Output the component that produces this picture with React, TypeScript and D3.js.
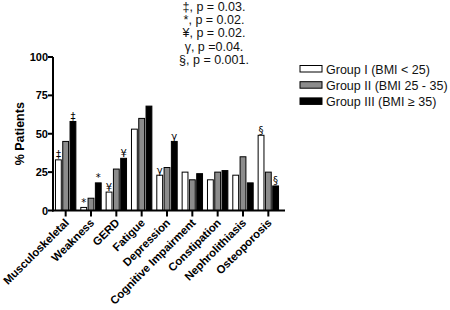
import React from "react";
import * as d3 from "d3";

const categories = [
  "Musculoskeletal",
  "Weakness",
  "GERD",
  "Fatigue",
  "Depression",
  "Cognitive Impairment",
  "Constipation",
  "Nephrolithiasis",
  "Osteoporosis",
];
const groups = ["Group I (BMI < 25)", "Group II (BMI 25 - 35)", "Group III (BMI \u2265 35)"];
const group1 = [33, 2, 12, 53, 23, 25, 20, 23, 49];
const group2 = [45, 8, 27, 60, 28, 20, 25, 35, 25];
const group3 = [58, 18, 34, 68, 45, 24, 26, 18, 16];
const seriesValues = [group1, group2, group3];
const yTicks = [0, 25, 50, 75, 100];
const markers = ["\u2021", "*", "\u00a5", "", "\u03b3", "", "", "", "\u00a7"];
const notes = ["\u2021, p = 0.03.", "*, p = 0.02.", "\u00a5, p = 0.02.", "\u03b3, p =0.04.", "\u00a7, p = 0.001."];

const fills = ["#ffffff", "#8c8c8c", "#000000"];
const FONT = "Liberation Sans, Arial, Helvetica, sans-serif";
const SYMFONT = "DejaVu Sans, Liberation Sans, sans-serif";

export default function App() {
  const W = 450, H = 310;
  const x0 = d3.scaleBand<string>().domain(categories).range([53, 281]).padding(0);
  const x1 = d3.scaleBand<number>().domain([0, 1, 2]).range([-10.2, 10.2]).paddingInner(0.2);
  const y = d3.scaleLinear().domain([0, 100]).range([210.5, 57]);

  return (
    <svg width={W} height={H} style={{ position: "absolute", left: 0, top: 0, fontFamily: FONT }}>
      <rect width={W} height={H} fill="#fff" />
      {/* notes */}
      {notes.map((n, i) => (
        <text key={i} x={214} y={11 + i * 13.2} fontSize={12.5} textAnchor="middle" fill="#111">
          {n}
        </text>
      ))}
      {/* bars */}
      {categories.map((c, ci) => {
        const cx = (x0(c) as number) + x0.bandwidth() / 2;
        return (
          <g key={c}>
            {seriesValues.map((vals, gi) => {
              const bx = cx + (x1(gi) as number);
              const bw = x1.bandwidth();
              const v = vals[ci];
              return (
                <rect
                  key={gi}
                  x={bx}
                  y={y(v)}
                  width={bw}
                  height={y(0) - y(v)}
                  fill={fills[gi]}
                  stroke="#000"
                  strokeWidth={1}
                />
              );
            })}
            {markers[ci] &&
              [0, 2].map((gi) => (
                <text
                  key={gi}
                  x={cx + (x1(gi) as number) + x1.bandwidth() / 2}
                  y={y(seriesValues[gi][ci]) - 1.5}
                  fontSize={10}
                  fontFamily={SYMFONT}
                  textAnchor="middle"
                  fill="#000"
                >
                  {markers[ci]}
                </text>
              ))}
          </g>
        );
      })}
      {/* y axis */}
      <line x1={53} x2={53} y1={y(100)} y2={y(0) + 1} stroke="#000" strokeWidth={2} />
      {yTicks.map((t) => (
        <g key={t}>
          <line x1={48} x2={53} y1={y(t)} y2={y(t)} stroke="#000" strokeWidth={2} />
          <text x={48} y={y(t) + 4} fontSize={11} fontWeight="bold" textAnchor="end">
            {t}
          </text>
        </g>
      ))}
      <text
        transform={`translate(24,${(y(0) + y(100)) / 2}) rotate(-90)`}
        fontSize={12.5}
        fontWeight="bold"
        textAnchor="middle"
      >
        % Patients
      </text>
      {/* x axis */}
      <line x1={52} x2={285} y1={y(0)} y2={y(0)} stroke="#000" strokeWidth={2} />
      {categories.map((c) => {
        const cx = (x0(c) as number) + x0.bandwidth() / 2;
        return (
          <g key={c}>
            <line x1={cx} x2={cx} y1={y(0)} y2={y(0) + 6} stroke="#000" strokeWidth={2} />
            <text
              transform={`translate(${cx + 4},${y(0) + 13}) rotate(-45)`}
              fontSize={11.3}
              fontWeight="bold"
              textAnchor="end"
            >
              {c}
            </text>
          </g>
        );
      })}
      {/* legend */}
      {groups.map((g, i) => (
        <g key={g} transform={`translate(300,${65.5 + i * 16.2})`}>
          <rect x={0} y={0} width={22} height={6.5} fill={fills[i]} stroke="#000" strokeWidth={1} />
          <text x={26} y={8} fontSize={12.5} fill="#111">
            {g}
          </text>
        </g>
      ))}
    </svg>
  );
}
